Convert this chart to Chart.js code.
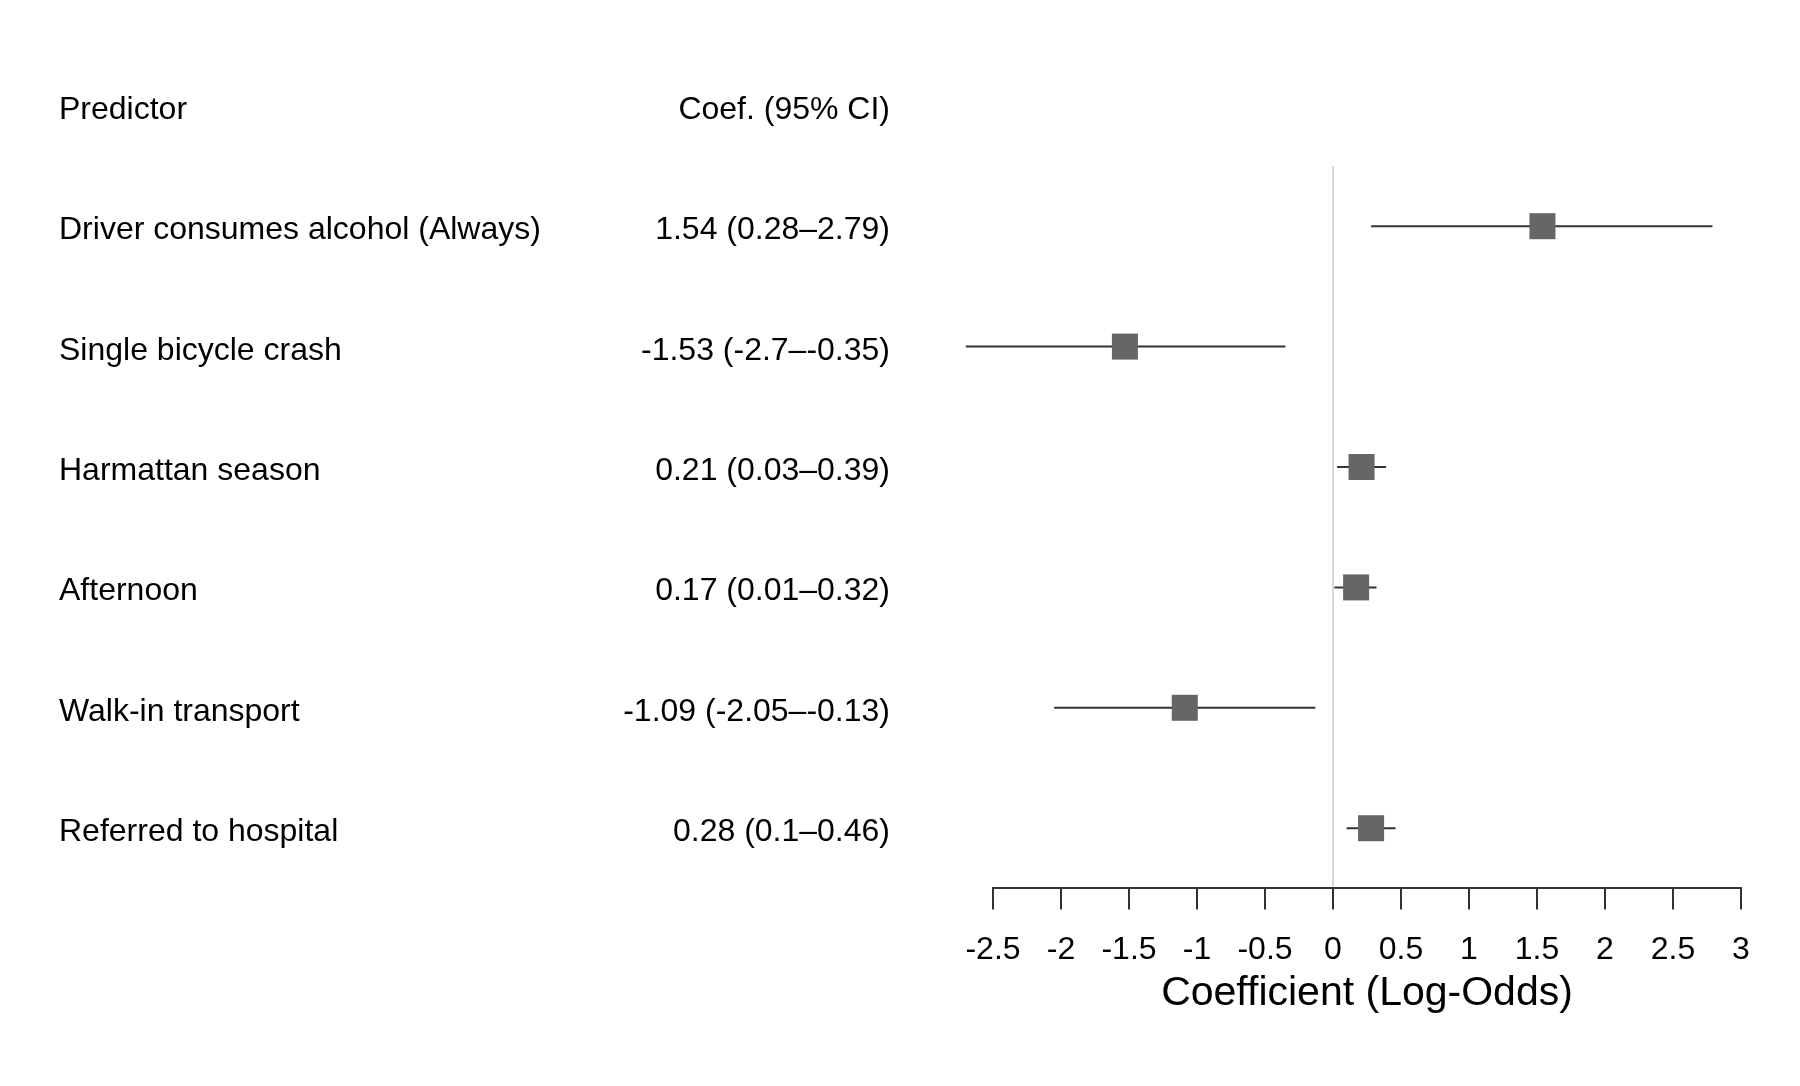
<!DOCTYPE html>
<html>
<head>
<meta charset="utf-8">
<title>Forest plot</title>
<script src="https://cdn.jsdelivr.net/npm/chart.js@4.4.1/dist/chart.umd.min.js"></script>
<style>
  html, body { margin: 0; padding: 0; background: #fff; }
  #wrap { width: 1800px; height: 1086px; }
</style>
</head>
<body>
<div id="wrap"><canvas id="forest" width="1800" height="1086"></canvas></div>
<script>
const predictors = [
  'Driver consumes alcohol (Always)',
  'Single bicycle crash',
  'Harmattan season',
  'Afternoon',
  'Walk-in transport',
  'Referred to hospital'
];
const coef = [1.54, -1.53, 0.21, 0.17, -1.09, 0.28];
const ciLow = [0.28, -2.7, 0.03, 0.01, -2.05, 0.1];
const ciHigh = [2.79, -0.35, 0.39, 0.32, -0.13, 0.46];
const xTicks = [-2.5, -2, -1.5, -1, -0.5, 0, 0.5, 1, 1.5, 2, 2.5, 3];

const headerLeft = 'Predictor';
const headerRight = 'Coef. (95% CI)';
const xTitle = 'Coefficient (Log-Odds)';

const FONT = '"Liberation Sans", Arial, Helvetica, sans-serif';
const canvas = document.getElementById('forest');

// rows sit at y = 1..6, header at y = 0
const estimates = coef.map((c, i) => ({ x: c, y: i + 1 }));
const ciSets = ciLow.map((lo, i) => ({
  data: [{ x: lo, y: i + 1 }, { x: ciHigh[i], y: i + 1 }],
  showLine: true,
  clip: false,
  borderColor: '#333333',
  borderWidth: 2,
  pointRadius: 0,
  pointHoverRadius: 0
}));

// text table on the left: predictor names and formatted coefficients
const tableText = {
  id: 'tableText',
  afterDraw(chart) {
    const ctx = chart.ctx;
    const y = chart.scales.y;
    const leftX = 59;
    const rightX = 890;
    ctx.save();
    ctx.fillStyle = '#000';
    ctx.font = '32px ' + FONT;
    ctx.textBaseline = 'alphabetic';

    const rowY = v => y.getPixelForValue(v) + 13;

    ctx.textAlign = 'left';
    ctx.fillText(headerLeft, leftX, rowY(0));
    ctx.textAlign = 'right';
    ctx.fillText(headerRight, rightX, rowY(0));

    predictors.forEach((name, i) => {
      ctx.textAlign = 'left';
      ctx.fillText(name, leftX, rowY(i + 1));
      ctx.textAlign = 'right';
      ctx.fillText(`${coef[i]} (${ciLow[i]}\u2013${ciHigh[i]})`, rightX, rowY(i + 1));
    });
    ctx.restore();
  }
};

new Chart(canvas, {
  type: 'scatter',
  data: {
    datasets: [
      {
        data: estimates,
        clip: false,
        pointStyle: 'rect',
        pointRadius: 18.4,
        pointHoverRadius: 18.4,
        backgroundColor: '#666666',
        borderColor: '#666666',
        borderWidth: 0
      },
      ...ciSets
    ]
  },
  options: {
    responsive: false,
    animation: false,
    devicePixelRatio: 1,
    layout: {
      padding: { top: 166, left: 993, right: 59, bottom: 68 }
    },
    plugins: {
      legend: { display: false },
      tooltip: { enabled: false }
    },
    scales: {
      x: {
        type: 'linear',
        position: 'bottom',
        min: -2.5,
        max: 3,
        afterBuildTicks: axis => {
          axis.ticks = xTicks.map(v => ({ value: v }));
        },
        ticks: {
          color: '#000',
          font: { family: FONT, size: 32 },
          padding: 22,
          maxRotation: 0,
          autoSkip: false,
          callback: v => String(v)
        },
        grid: {
          drawOnChartArea: true,
          color: c => (c.tick && c.tick.value === 0 ? '#d9d9d9' : 'rgba(0,0,0,0)'),
          lineWidth: 2,
          tickColor: '#333333',
          tickWidth: 2,
          tickLength: 21
        },
        border: { display: true, color: '#333333', width: 2 },
        title: {
          display: true,
          text: xTitle,
          color: '#000',
          font: { family: FONT, size: 41 },
          padding: { top: -23, bottom: 0 }
        }
      },
      y: {
        type: 'linear',
        display: false,
        reverse: true,
        min: 0.5,
        max: 6.5
      }
    }
  },
  plugins: [tableText]
});
</script>
</body>
</html>
